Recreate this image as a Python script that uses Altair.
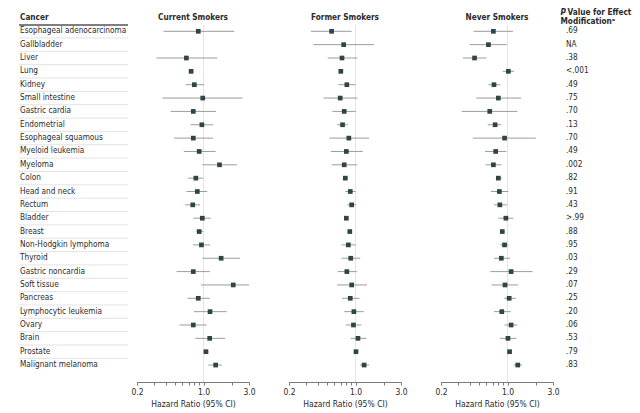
import altair as alt
import pandas as pd

cancers = ["Esophageal adenocarcinoma", "Gallbladder", "Liver", "Lung", "Kidney",
           "Small intestine", "Gastric cardia", "Endometrial", "Esophageal squamous",
           "Myeloid leukemia", "Myeloma", "Colon", "Head and neck", "Rectum", "Bladder",
           "Breast", "Non-Hodgkin lymphoma", "Thyroid", "Gastric noncardia", "Soft tissue",
           "Pancreas", "Lymphocytic leukemia", "Ovary", "Brain", "Prostate", "Malignant melanoma"]

cur_hr = [0.88, None, 0.66, 0.74, 0.80, 0.98, 0.78, 0.96, 0.78, 0.90, 1.47, 0.83, 0.86,
          0.77, 0.97, 0.90, 0.95, 1.53, 0.78, 2.05, 0.88, 1.17, 0.78, 1.16, 1.06, 1.34]
cur_lo = [0.38, None, 0.32, 0.71, 0.65, 0.37, 0.45, 0.73, 0.49, 0.62, 0.97, 0.69, 0.66,
          0.64, 0.78, 0.84, 0.77, 0.97, 0.52, 0.94, 0.68, 0.79, 0.56, 0.82, 0.99, 1.12]
cur_hi = [2.10, None, 1.39, 0.78, 1.01, 2.57, 1.35, 1.26, 1.26, 1.34, 2.24, 0.99, 1.09,
          0.92, 1.19, 0.99, 1.17, 2.41, 1.16, 3.00, 1.16, 1.75, 1.08, 1.69, 1.12, 1.55]

for_hr = [0.56, 0.75, 0.72, 0.70, 0.81, 0.69, 0.76, 0.73, 0.85, 0.80, 0.76, 0.78, 0.88,
          0.91, 0.80, 0.87, 0.84, 0.89, 0.81, 0.91, 0.88, 0.96, 0.95, 1.06, 1.01, 1.23]
for_lo = [0.34, 0.36, 0.51, 0.67, 0.66, 0.46, 0.57, 0.64, 0.53, 0.55, 0.56, 0.74, 0.78,
          0.82, 0.76, 0.83, 0.71, 0.71, 0.65, 0.64, 0.72, 0.76, 0.79, 0.89, 0.97, 1.11]
for_hi = [0.91, 1.56, 1.05, 0.73, 1.00, 1.05, 1.01, 0.83, 1.39, 1.19, 1.04, 0.83, 1.00,
          1.01, 0.84, 0.91, 1.00, 1.12, 1.03, 1.32, 1.10, 1.22, 1.15, 1.30, 1.05, 1.39]

nev_hr = [0.71, 0.63, 0.45, 1.02, 0.72, 0.80, 0.65, 0.74, 0.93, 0.75, 0.71, 0.80, 0.82,
          0.83, 0.96, 0.88, 0.93, 0.86, 1.09, 0.94, 1.04, 0.87, 1.09, 1.01, 1.05, 1.28]
nev_lo = [0.44, 0.40, 0.34, 0.89, 0.63, 0.47, 0.33, 0.62, 0.43, 0.58, 0.59, 0.75, 0.67,
          0.72, 0.80, 0.84, 0.84, 0.72, 0.66, 0.68, 0.92, 0.72, 0.93, 0.83, 1.01, 1.16]
nev_hi = [1.14, 0.98, 0.60, 1.17, 0.84, 1.39, 1.27, 0.86, 1.98, 0.97, 0.86, 0.87, 1.02,
          0.99, 1.15, 0.92, 1.02, 1.06, 1.83, 1.29, 1.22, 1.08, 1.27, 1.24, 1.09, 1.42]

p_values = [".69", "NA", ".38", "<.001", ".49", ".75", ".70", ".13", ".70", ".49", ".002",
            ".82", ".91", ".43", ">.99", ".88", ".95", ".03", ".29", ".07", ".25", ".20",
            ".06", ".53", ".79", ".83"]

groups = ["Current Smokers", "Former Smokers", "Never Smokers"]
series = [(cur_hr, cur_lo, cur_hi), (for_hr, for_lo, for_hi), (nev_hr, nev_lo, nev_hi)]
tick_values = [0.2, 0.3, 0.4, 0.5, 0.6, 0.7, 0.8, 0.9, 1.0, 2.0, 3.0]

records = []
for g, (hr, lo, hi) in zip(groups, series):
    for i, c in enumerate(cancers):
        if hr[i] is None:
            continue
        records.append(dict(row=i, cancer=c, group=g, hr=hr[i], lo=lo[i], hi=hi[i]))
df = pd.DataFrame(records)
lab = pd.DataFrame({"row": list(range(len(cancers))), "cancer": cancers, "p": p_values})
sep = pd.DataFrame({"sep": [i + 0.5 for i in range(len(cancers) - 1)]})
one = pd.DataFrame({"v": [1.0]})

FONT = "DejaVu Sans Condensed, Roboto, sans-serif"
FS = 8.2
TXT = "#2a2a2a"
H = 372
PW = 112
yscale = alt.Scale(domain=[-1.596, 26.27], reverse=True, nice=False, zero=False)
xscale = alt.Scale(type="log", domain=[0.2, 3.0], nice=False)
xaxis = alt.Axis(
    values=tick_values,
    labelExpr="(abs(datum.value-0.2)<0.001 || abs(datum.value-1)<0.001 || abs(datum.value-3)<0.001) ? format(datum.value,'.1f') : ''",
    title="Hazard Ratio (95% CI)", grid=False,
)


def Yq(field):
    return alt.Y(field + ":Q", scale=yscale, axis=None)


def panel(g, extra=()):
    base = alt.Chart(df).transform_filter(alt.datum.group == g)
    ref = alt.Chart(one).mark_rule(color="#e4e4e4", strokeWidth=1).encode(
        x=alt.X("v:Q", scale=xscale, axis=xaxis), y=alt.value(15), y2=alt.value(H))
    ci = base.mark_rule(color="#9c9c9c", strokeWidth=1).encode(
        x=alt.X("lo:Q", scale=xscale, axis=xaxis), x2="hi:Q", y=Yq("row"))
    pt = base.mark_square(size=22, color="#2f4545", opacity=1).encode(
        x=alt.X("hr:Q", scale=xscale, axis=xaxis), y=Yq("row"))
    ttl = alt.Chart(pd.DataFrame({"t": [g]})).mark_text(
        font=FONT, fontSize=FS, fontWeight="bold", color=TXT).encode(
        text="t:N", x=alt.value(PW / 2), y=alt.value(8))
    return alt.layer(ref, ci, pt, ttl, *extra).properties(width=PW, height=H)


# label column
lab_text = alt.Chart(lab).mark_text(align="left", font=FONT, fontSize=FS, color=TXT).encode(
    x=alt.value(12), y=Yq("row"), text="cancer:N")
sep_rule = alt.Chart(sep).mark_rule(color="#dcdcdc", strokeWidth=0.8).encode(
    x=alt.value(11), x2=alt.value(120), y=Yq("sep"))
head_rule = alt.Chart(one).mark_rule(color="#555555", strokeWidth=1.3).encode(
    x=alt.value(11), x2=alt.value(120), y=alt.value(15))
head_txt = alt.Chart(pd.DataFrame({"t": ["Cancer"]})).mark_text(
    align="left", font=FONT, fontSize=FS, fontWeight="bold", color=TXT).encode(
    text="t:N", x=alt.value(12), y=alt.value(8))
panelA = alt.layer(sep_rule, head_rule, head_txt, lab_text).properties(width=89, height=H)

# p-value column (drawn inside the last panel)
p_text = alt.Chart(lab).mark_text(align="left", font=FONT, fontSize=FS, color=TXT).encode(
    x=alt.value(125), y=Yq("row"), text="p:N")
ph1 = alt.Chart(pd.DataFrame({"t": ["P"]})).mark_text(
    align="left", font=FONT, fontSize=FS, fontWeight="bold", fontStyle="italic", color=TXT).encode(
    text="t:N", x=alt.value(119.5), y=alt.value(3))
ph2 = alt.Chart(pd.DataFrame({"t": ["Value for Effect"]})).mark_text(
    align="left", font=FONT, fontSize=FS, fontWeight="bold", color=TXT).encode(
    text="t:N", x=alt.value(126.5), y=alt.value(3))
ph3 = alt.Chart(pd.DataFrame({"t": ["Modification\u1d43"]})).mark_text(
    align="left", font=FONT, fontSize=FS, fontWeight="bold", color=TXT).encode(
    text="t:N", x=alt.value(119.5), y=alt.value(12))

panels = [panel(groups[0]), panel(groups[1]), panel(groups[2], extra=(p_text, ph1, ph2, ph3))]

chart = alt.hconcat(panelA, *panels, spacing=40, bounds="flush").properties(
    padding=0
).configure_view(stroke=None).configure_axis(
    labelFont=FONT, titleFont=FONT, labelFontSize=8.5, titleFontSize=8.5,
    titleFontWeight="normal", labelColor=TXT, titleColor=TXT,
    domainColor="#7a7a7a", tickColor="#7a7a7a", tickSize=3, labelPadding=2,
    titlePadding=4, labelFlush=False, labelOverlap=False,
)

chart.save("out.html", embed_options={"renderer": "svg", "actions": False})
